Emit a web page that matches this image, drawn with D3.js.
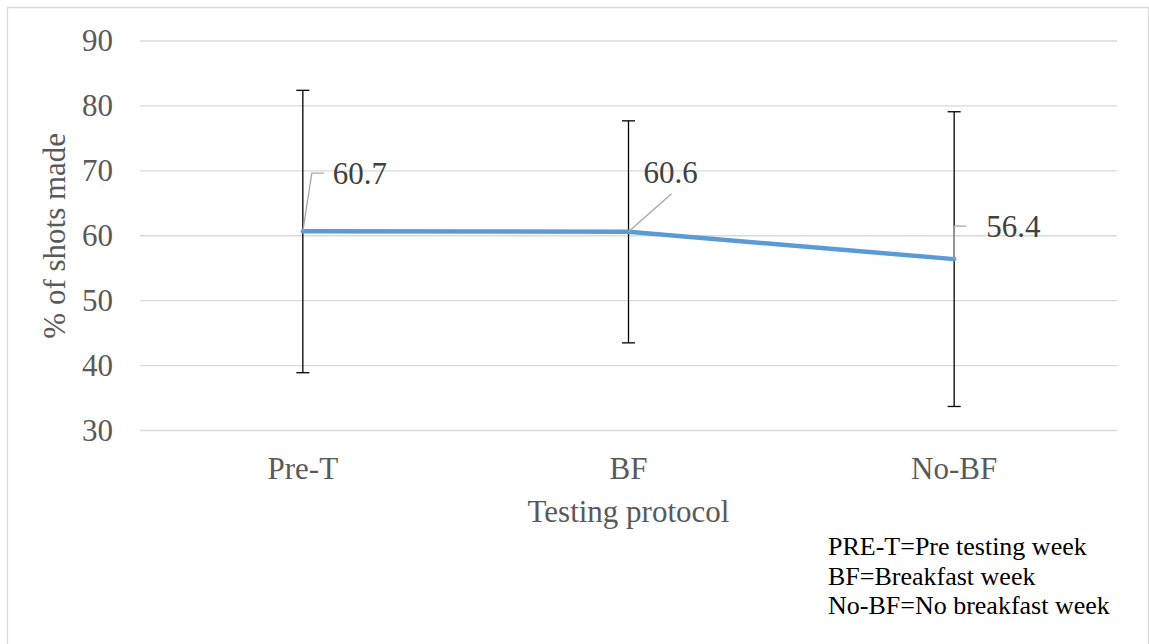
<!DOCTYPE html>
<html>
<head>
<meta charset="utf-8">
<script src="https://cdn.jsdelivr.net/npm/d3@7"></script>
<style>
  body { margin: 0; background: #fff; }
  svg text { font-family: "Liberation Serif", "Times New Roman", Times, "DejaVu Serif", serif !important; }
</style>
</head>
<body>
<div id="chart"></div>
<script>
// data
const categories = ["Pre-T", "BF", "No-BF"];
const means = [60.7, 60.6, 56.4];
const errUpper = [82.4, 77.7, 79.1];
const errLower = [38.9, 43.5, 33.7];
const yTicks = [30, 40, 50, 60, 70, 80, 90];
const notes = ["PRE-T=Pre testing week", "BF=Breakfast week", "No-BF=No breakfast week"];

// label placement (Excel-style manual offsets, pixels from the point)
const labelOffsets = [
  { lx: 9, ly: -58, hx: 21, tx: 30, ty: -47 },
  { lx: 43, ly: -38, hx: 43, tx: 15, ty: -49 },
  { lx: 0, ly: -33, hx: 12, tx: 32, ty: -22 }
];

const width = 1149, height = 644;
const margin = { top: 41, right: 32, bottom: 213.5, left: 140 };
const innerWidth = width - margin.left - margin.right;
const innerHeight = height - margin.top - margin.bottom;

const svg = d3.select("#chart")
  .append("svg")
    .attr("width", width)
    .attr("height", height);

// outer frame (bottom edge falls outside the picture)
svg.append("path")
  .attr("d", "M7.5,644 V7.5 H1148.5 V644")
  .attr("fill", "none")
  .attr("stroke", "#d9d9d9")
  .attr("stroke-width", 1.3);

const inner = svg.append("g")
  .attr("transform", `translate(${margin.left}, ${margin.top})`);

const xScale = d3.scaleBand()
  .domain(categories)
  .range([0, innerWidth]);

const yScale = d3.scaleLinear()
  .domain([30, 90])
  .range([innerHeight, 0]);

const xPos = c => xScale(c) + xScale.bandwidth() / 2;

// gridlines
inner.append("g")
  .selectAll("line")
  .data(yTicks)
  .join("line")
    .attr("x1", 0)
    .attr("x2", innerWidth)
    .attr("y1", d => yScale(d))
    .attr("y2", d => yScale(d))
    .attr("stroke", "#d9d9d9")
    .attr("stroke-width", 1.3);

// y axis labels
const leftAxis = d3.axisLeft(yScale)
  .tickValues(yTicks)
  .tickSize(0)
  .tickPadding(27);
inner.append("g")
  .attr("class", "axis axis-y")
  .call(leftAxis)
  .call(g => g.select(".domain").remove())
  .selectAll("text")
    .attr("font-size", 31)
    .attr("fill", "#595959");

// x axis labels
const bottomAxis = d3.axisBottom(xScale)
  .tickSize(0)
  .tickPadding(26);
inner.append("g")
  .attr("class", "axis axis-x")
  .attr("transform", `translate(0, ${innerHeight})`)
  .call(bottomAxis)
  .call(g => g.select(".domain").remove())
  .selectAll("text")
    .attr("font-size", 31)
    .attr("fill", "#595959");

// error bars
const rows = categories.map((c, i) => ({ c, mean: means[i], hi: errUpper[i], lo: errLower[i], off: labelOffsets[i] }));

const err = inner.append("g").attr("stroke", "#000").attr("stroke-width", 1.3);
err.selectAll(".err-v")
  .data(rows)
  .join("line")
    .attr("class", "err-v")
    .attr("x1", d => xPos(d.c)).attr("x2", d => xPos(d.c))
    .attr("y1", d => yScale(d.hi)).attr("y2", d => yScale(d.lo));
["hi", "lo"].forEach(k => {
  err.selectAll(`.cap-${k}`)
    .data(rows)
    .join("line")
      .attr("class", `cap-${k}`)
      .attr("x1", d => xPos(d.c) - 6.5).attr("x2", d => xPos(d.c) + 6.5)
      .attr("y1", d => yScale(d[k])).attr("y2", d => yScale(d[k]));
});

// mean line
const line = d3.line()
  .x(d => xPos(d.c))
  .y(d => yScale(d.mean));
inner.append("path")
  .datum(rows)
  .attr("d", line)
  .attr("fill", "none")
  .attr("stroke", "#5b9bd5")
  .attr("stroke-width", 4.5)
  .attr("stroke-linecap", "round")
  .attr("stroke-linejoin", "round");

// leader lines + data labels
inner.append("g")
  .selectAll("polyline")
  .data(rows)
  .join("polyline")
    .attr("points", d => {
      const x = xPos(d.c), y = yScale(d.mean);
      return `${x},${y} ${x + d.off.lx},${y + d.off.ly} ${x + d.off.hx},${y + d.off.ly}`;
    })
    .attr("fill", "none")
    .attr("stroke", "#a6a6a6")
    .attr("stroke-width", 1.3);

inner.append("g")
  .selectAll("text")
  .data(rows)
  .join("text")
    .attr("x", d => xPos(d.c) + d.off.tx)
    .attr("y", d => yScale(d.mean) + d.off.ty)
    .attr("font-size", 31)
    .attr("fill", "#404040")
    .text(d => d.mean.toFixed(1));

// axis titles
svg.append("text")
  .attr("transform", `translate(65, ${margin.top + innerHeight / 2}) rotate(-90)`)
  .attr("text-anchor", "middle")
  .attr("font-size", 31)
  .attr("fill", "#595959")
  .text("% of shots made");

svg.append("text")
  .attr("x", margin.left + innerWidth / 2)
  .attr("y", 522)
  .attr("text-anchor", "middle")
  .attr("font-size", 31)
  .attr("fill", "#595959")
  .text("Testing protocol");

// abbreviation notes
svg.append("g")
  .selectAll("text")
  .data(notes)
  .join("text")
    .attr("x", 828)
    .attr("y", (d, i) => 555 + i * 29.5)
    .attr("font-size", 26)
    .attr("fill", "#000")
    .text(d => d);
</script>
</body>
</html>
